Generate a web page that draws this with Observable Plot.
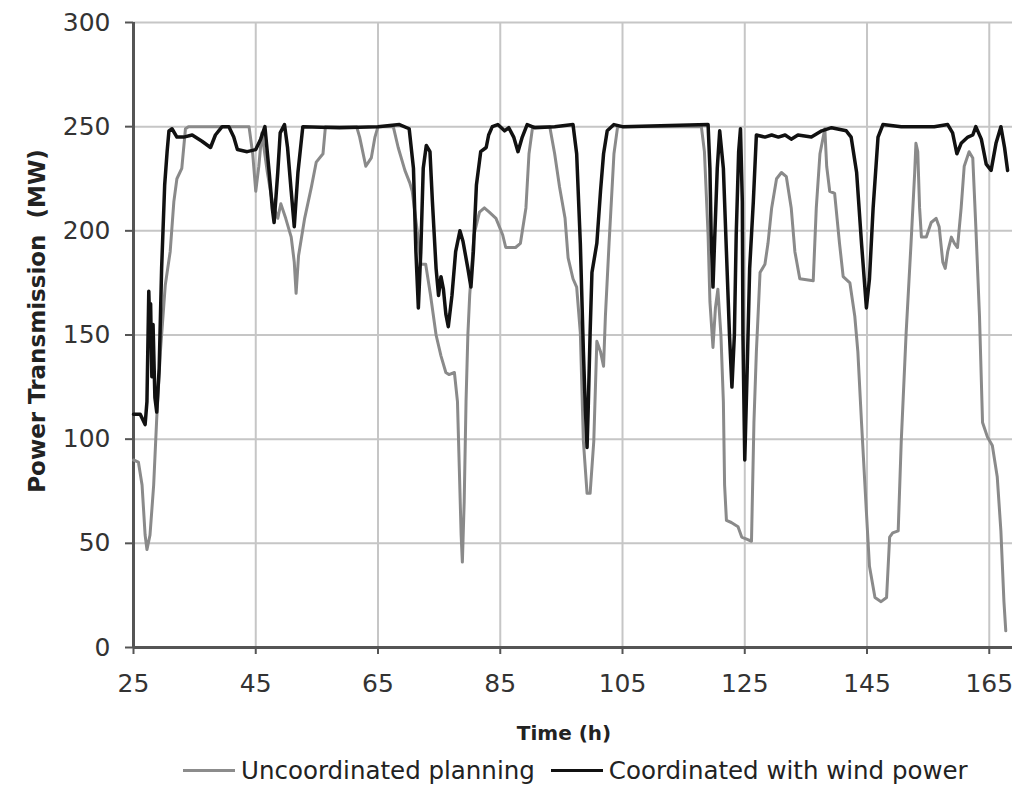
<!DOCTYPE html>
<html>
<head>
<meta charset="utf-8">
<script src="https://cdn.jsdelivr.net/npm/d3@7"></script>
<script src="https://cdn.jsdelivr.net/npm/@observablehq/plot@0.6"></script>
<style>
  html, body { margin: 0; padding: 0; background: #fff; }
  #chart svg { display: block; }
  #legend { display: flex; align-items: center; margin-left: 183px; height: 37px;
            font-family: "DejaVu Sans", sans-serif; font-size: 24.5px; color: #222; }
  .item { display: flex; align-items: center; margin-right: 16px; }
  .sw { display: inline-block; width: 52px; height: 0; border-top: 3px solid; margin-right: 6px; }
</style>
</head>
<body>
<div id="chart"></div>
<div id="legend">
  <span class="item"><span class="sw" style="border-color:#8c8c8c"></span>Uncoordinated planning</span>
  <span class="item"><span class="sw" style="border-color:#111"></span>Coordinated with wind power</span>
</div>
<script>
// Tick values
const xTicks = [25, 45, 65, 85, 105, 125, 145, 165];
const yTicks = [0, 50, 100, 150, 200, 250, 300];

// Uncoordinated planning (grey)
const uncoordT = [25, 25.8, 26.4, 26.9, 27.2, 27.7, 28.3, 28.8, 29.4, 30.2, 31.0, 31.6, 32.1, 32.9, 33.5, 34.0,
  43.9, 44.5, 45.0, 45.5, 46.0, 46.9, 47.7, 48.6, 49.1, 49.9, 50.8, 51.3, 51.6, 52.0, 53.0, 54.1, 54.9, 56.0, 56.4,
  61.5, 62.0, 63.0, 63.9, 64.5, 65.0, 67.5, 68.3, 69.4, 70.2, 70.6, 71.5, 72.0, 72.8, 73.6, 74.5, 75.3, 76.1, 76.6,
  77.5, 78.0, 78.3, 78.6, 78.8, 79.1, 79.4, 79.7, 80.0, 80.7, 81.6, 82.4, 83.2, 84.3, 85.4, 85.9, 86.5, 87.5, 88.3,
  89.2, 89.7, 90.3, 93.1, 93.9, 94.7, 95.6, 96.1, 96.9, 97.5, 98.1, 98.6, 99.2, 99.7, 100.3, 100.8, 101.4, 101.9,
  102.2, 102.8, 103.6, 104.2, 117.9, 118.4, 119.0, 119.3, 119.8, 120.2, 120.6, 121.1, 121.5, 121.7, 122.0, 122.8,
  123.9, 124.5, 125.3, 126.1, 126.5, 126.9, 127.5, 128.3, 128.8, 129.4, 130.2, 131.0, 131.8, 132.6, 133.2, 134.0,
  136.2, 136.7, 137.3, 138.1, 138.4, 138.9, 139.7, 140.5, 141.1, 142.2, 143.0, 143.5, 144.1, 144.9, 145.4, 146.3,
  147.3, 148.2, 148.7, 149.2, 150.1, 150.6, 151.4, 152.2, 152.8, 153.0, 153.3, 153.6, 153.9, 154.7, 155.5, 156.3,
  156.8, 157.4, 157.8, 158.2, 158.8, 159.3, 159.8, 160.4, 160.9, 161.7, 162.3, 162.8, 163.4, 163.9, 164.7, 165.5,
  166.3, 166.9, 167.4, 167.7];
const uncoordV = [90, 89, 78, 54, 47, 54, 78, 110, 142, 174, 190, 214, 225, 230, 249, 250,
  250, 237, 219, 231, 247, 228, 214, 206, 213, 206, 197, 185, 170, 188, 206, 221, 233, 237, 250,
  250, 245, 231, 235, 245, 250, 250, 240, 229, 223, 219, 198, 184, 184, 169, 150, 140, 132, 131,
  132, 118, 86, 54, 41, 70, 118, 150, 169, 198, 209, 211, 209, 206, 198, 192, 192, 192, 194,
  211, 237, 250, 250, 237, 221, 206, 187, 177, 173, 151, 99, 74, 74, 99, 147, 142, 135,
  159, 194, 237, 250, 250, 238, 198, 166, 144, 163, 172, 150, 118, 78, 61, 60,
  58, 53, 52, 51, 108, 142, 180, 184, 194, 211, 225, 228, 226, 211, 190, 177,
  176, 211, 237, 249, 231, 219, 218, 194, 178, 175, 159, 142, 108, 65, 39, 24,
  22, 24, 53, 55, 56, 99, 151, 194, 228, 242, 238, 211, 197, 197, 204, 206,
  202, 185, 182, 190, 197, 194, 192, 211, 231, 238, 235, 202, 159, 108, 101, 97,
  82, 56, 22, 8];

// Coordinated with wind power (black)
const coordT = [25, 26.1, 26.9, 27.2, 27.5, 27.7, 27.8, 28.0, 28.2, 28.5, 28.8, 29.2, 29.6, 30.1, 30.5, 30.8, 31.3,
  32.1, 33.2, 34.6, 36.2, 37.6, 38.4, 39.5, 40.6, 41.4, 42.0, 43.6, 45.0, 45.8, 46.5, 47.2, 47.7, 48.0, 48.6, 49.0,
  49.7, 50.2, 50.8, 51.3, 51.9, 52.7, 58.7, 65.0, 68.5, 70.1, 70.8, 71.2, 71.6, 72.0, 72.4, 72.9, 73.5, 73.9, 74.5,
  74.9, 75.3, 75.7, 76.1, 76.5, 77.1, 77.7, 78.4, 78.9, 79.7, 80.2, 80.6, 81.1, 81.8, 82.7, 83.1, 83.7, 84.6, 85.7,
  86.4, 87.2, 87.9, 88.6, 89.4, 90.6, 93.9, 96.9, 97.5, 98.1, 98.6, 98.9, 99.2, 99.4, 99.7, 100.0, 100.8, 101.4,
  101.9, 102.5, 103.6, 105.0, 119.0, 119.3, 119.5, 119.8, 120.1, 120.5, 120.9, 121.5, 122.0, 122.5, 122.9, 123.3,
  123.6, 124.0, 124.3, 124.6, 124.7, 125.0, 125.4, 125.8, 126.4, 126.9, 128.3, 129.4, 130.5, 131.6, 132.6, 133.7,
  135.9, 137.6, 139.2, 141.6, 142.4, 143.3, 144.1, 144.9, 145.4, 146.0, 146.8, 147.6, 150.6, 156.0, 158.2, 159.0,
  159.7, 160.4, 161.5, 162.3, 162.8, 163.7, 164.5, 165.3, 166.1, 166.9, 167.5, 168.0];
const coordV = [112, 112, 107, 118, 171, 150, 165, 130, 155, 120, 113, 134, 182, 222, 238, 248, 249,
  245, 245, 246, 243, 240, 246, 250, 250, 245, 239, 238, 239, 244, 250, 228, 211, 204, 228, 247,
  251, 240, 219, 202, 228, 250, 249.5, 250, 251, 249, 230, 190, 163, 190, 230, 241, 238, 214, 182,
  169, 178, 172, 160, 154, 169, 190, 200, 195, 182, 173, 190, 222, 238, 240, 246, 250, 251, 248,
  249.5, 245, 238, 245, 251, 249.5, 250, 251, 237, 194, 142, 116, 96, 116, 151, 180, 194, 219,
  237, 248, 251, 250, 251, 230, 198, 173, 198, 230, 248, 230, 190, 150, 125, 150,
  198, 238, 249, 214, 150, 90, 134, 182, 214, 246, 245, 246, 245, 246, 244, 246,
  245, 248, 249.5, 248, 245, 228, 194, 163, 177, 211, 245, 251, 250, 250, 251, 247,
  237, 242, 245, 246, 250, 244, 232, 229, 242, 250, 240, 229];

const uncoord = uncoordT.map((t, i) => ({t, v: uncoordV[i]}));
const coord = coordT.map((t, i) => ({t, v: coordV[i]}));

const gridColor = "#c6c6c6";
const axisColor = "#555";

const chart = Plot.plot({
  width: 1014,
  height: 752,
  marginLeft: 133,
  marginRight: 2,
  marginTop: 22,
  marginBottom: 105,
  x: {domain: [25, 168.8]},
  y: {domain: [0, 300]},
  style: {fontFamily: "DejaVu Sans, sans-serif", fontSize: "25px", color: "#333", background: "#fff", overflow: "visible"},
  marks: [
    Plot.gridX(xTicks.slice(1), {stroke: gridColor, strokeOpacity: 1, strokeWidth: 2}),
    Plot.gridY(yTicks.slice(1), {stroke: gridColor, strokeOpacity: 1, strokeWidth: 2}),
    Plot.axisX(xTicks, {tickSize: 7, tickPadding: 20, stroke: axisColor, strokeWidth: 2, label: null, fontSize: 25}),
    Plot.axisY(yTicks, {tickSize: 8, tickPadding: 15, stroke: axisColor, strokeWidth: 2, label: null, fontSize: 25}),
    Plot.ruleX([25], {stroke: axisColor, strokeWidth: 3}),
    Plot.ruleY([0], {stroke: axisColor, strokeWidth: 3}),
    Plot.line(uncoord, {x: "t", y: "v", stroke: "#8a8a8a", strokeWidth: 3, strokeLinejoin: "round"}),
    Plot.line(coord, {x: "t", y: "v", stroke: "#111", strokeWidth: 3.5, strokeLinejoin: "round"}),
    Plot.text(["Time (h)"], {frameAnchor: "bottom", lineAnchor: "middle", textAnchor: "middle", dx: -9, dy: 86, fontWeight: "bold", fontSize: 20, fill: "#222"}),
    Plot.text(["Power Transmission  (MW)"], {frameAnchor: "left", textAnchor: "middle", lineAnchor: "middle", dx: -96, dy: -14, rotate: -90, fontWeight: "bold", fontSize: 23, fill: "#222"})
  ]
});
document.getElementById("chart").appendChild(chart);
</script>
</body>
</html>
